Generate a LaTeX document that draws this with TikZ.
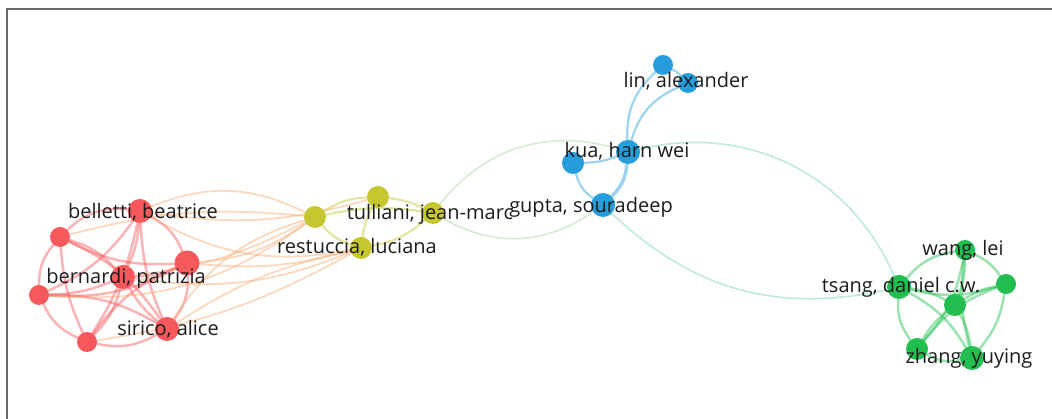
\documentclass[tikz,border=0pt]{standalone}
\usepackage{fontspec}
\setmainfont{Open Sans}
\usetikzlibrary{backgrounds}
\definecolor{clred}{RGB}{246,88,92}
\definecolor{clyellow}{RGB}{198,198,48}
\definecolor{clblue}{RGB}{38,158,220}
\definecolor{clgreen}{RGB}{34,190,80}
\definecolor{orangelink}{RGB}{248,170,110}
\definecolor{yblink}{RGB}{160,210,150}
\definecolor{bglink}{RGB}{110,205,190}
\definecolor{labelgray}{RGB}{28,28,28}
\definecolor{framegray}{RGB}{105,105,105}

\begin{document}
\begin{tikzpicture}[%
      x=1pt, y=1pt,
      au/.style={circle, inner sep=0pt, minimum size=#1},
      name label/.style={anchor=base, inner sep=0pt, text=labelgray,
        font=\fontsize{20}{24}\selectfont},
      link/.style={line width=#1, line cap=round, draw opacity=0.45},
      ]
      \useasboundingbox (0,0) rectangle (1052,419);
      \draw [color=framegray, line width=1.8pt] (7,0) -- (7,410) -- (1052,410);

      % red cluster
      \node [au=24pt, fill=clred] (r1) at (140,208) {};
      \node [au=20pt, fill=clred] (r2) at (60,182) {};
      \node [au=25pt, fill=clred] (r3) at (187,156) {};
      \node [au=24pt, fill=clred] (r4) at (123,142) {};
      \node [au=20pt, fill=clred] (r5) at (39,124) {};
      \node [au=24pt, fill=clred] (r6) at (167,90) {};
      \node [au=20pt, fill=clred] (r7) at (87,77) {};

      % yellow cluster
      \node [au=22pt, fill=clyellow] (y1) at (315,202) {};
      \node [au=22pt, fill=clyellow] (y2) at (378,222) {};
      \node [au=22pt, fill=clyellow] (y3) at (433,206) {};
      \node [au=22pt, fill=clyellow] (y4) at (361,171) {};

      % blue cluster
      \node [au=20pt, fill=clblue] (b1) at (663,354) {};
      \node [au=20pt, fill=clblue] (b2) at (688,336) {};
      \node [au=24pt, fill=clblue] (b3) at (628,267) {};
      \node [au=22pt, fill=clblue] (b4) at (573,256) {};
      \node [au=24pt, fill=clblue] (b5) at (603,214) {};

      % green cluster
      \node [au=20pt, fill=clgreen] (g1) at (965,169) {};
      \node [au=20pt, fill=clgreen] (g2) at (1006,135) {};
      \node [au=24pt, fill=clgreen] (g3) at (899,132) {};
      \node [au=22pt, fill=clgreen] (g4) at (955,114) {};
      \node [au=22pt, fill=clgreen] (g5) at (917,70) {};
      \node [au=24pt, fill=clgreen] (g6) at (972,61) {};

      \begin{pgfonlayer}{background}
      \foreach \a/\b/\bnd in {r1/r2/-25, r2/r5/-20, r5/r7/-20, r7/r6/-20,
          r6/r3/-20, r3/r1/-20, r1/r4/10, r1/r5/15, r1/r6/-10, r1/r7/10,
          r2/r3/-15, r2/r4/15, r2/r6/15, r2/r7/-10, r3/r4/10, r3/r5/15,
          r3/r7/-15, r4/r5/10, r4/r6/-10, r4/r7/15, r5/r6/15}
        \draw [link=2.5pt, color=clred] (\a) to [bend left=\bnd] (\b);

      \foreach \a/\b/\bnd in {r1/y1/24, r2/y1/10, r3/y1/-15, r4/y1/-10,
          r5/y1/-20, r6/y1/20, r1/y4/-20, r3/y4/-10, r4/y4/-15, r6/y4/10,
          r7/y4/-10, r1/y2/-12}
        \draw [link=1.8pt, color=orangelink] (\a) to [bend left=\bnd] (\b);

      \foreach \a/\b/\bnd in {y1/y2/15, y1/y3/10, y1/y4/-15, y2/y3/10,
          y2/y4/-10, y3/y4/15}
        \draw [link=2.2pt, color=clyellow] (\a) to [bend left=\bnd] (\b);

      \foreach \a/\b/\bnd in {b1/b2/10, b3/b1/25, b3/b2/25, b3/b4/10,
          b4/b5/-20}
        \draw [link=2.2pt, color=clblue] (\a) to [bend left=\bnd] (\b);
      \draw [link=3.5pt, color=clblue] (b3) to [bend left=20] (b5);

      \foreach \a/\b/\bnd in {g2/g1/-15, g1/g3/-20, g3/g5/-20, g5/g6/-20,
          g6/g2/-15, g1/g4/10, g1/g5/15, g1/g6/-10, g2/g3/15, g2/g4/-10,
          g2/g5/-15, g3/g4/10, g3/g6/15, g4/g5/-10, g4/g6/10}
        \draw [link=2.5pt, color=clgreen] (\a) to [bend left=\bnd] (\b);

      % links between clusters
      \draw [link=1.6pt, color=yblink] (y3) to [bend left=34] (b3);
      \draw [link=1.6pt, color=yblink] (y3) to [bend right=32] (b5);
      \draw [link=1.6pt, color=bglink] (b3) to [bend left=40] (g3);
      \draw [link=1.6pt, color=bglink] (b5) to [bend right=28] (g3);
      \end{pgfonlayer}

      % labels
      \node [name label] (lbelletti) at (143,200) {belletti, beatrice};
      \node [name label] (lbernardi) at (126,135) {bernardi, patrizia};
      \node [name label] (lsirico) at (168,83) {sirico, alice};
      \node [name label] (lrestuccia) at (357,165) {restuccia, luciana};
      \node [name label] (ltulliani) at (430,199) {tulliani, jean-marc};
      \node [name label] (lgupta) at (591,206) {gupta, souradeep};
      \node [name label] (lkua) at (627,261) {kua, harn wei};
      \node [name label] (llin) at (686,331) {lin, alexander};
      \node [name label] (lwang) at (963,163) {wang, lei};
      \node [name label] (ltsang) at (901,126) {tsang, daniel c.w.};
      \node [name label] (lzhang) at (969,55) {zhang, yuying};
\end{tikzpicture}
\end{document}
